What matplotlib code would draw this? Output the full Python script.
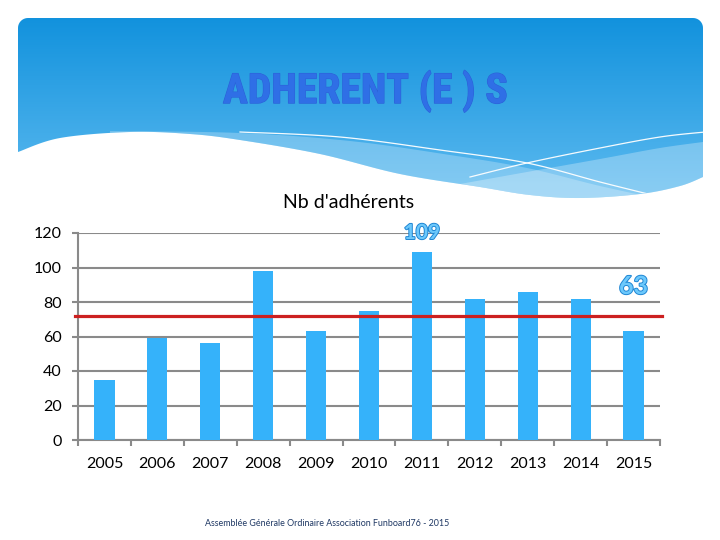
import matplotlib
matplotlib.use('Agg')
import matplotlib.pyplot as plt
import numpy as np
from matplotlib.path import Path
from matplotlib.patches import PathPatch, Polygon
import matplotlib.patheffects as pe
from matplotlib import font_manager

# ---------------- data ----------------
annees = ['2005', '2006', '2007', '2008', '2009', '2010', '2011', '2012', '2013', '2014', '2015']
adherents = [35, 59, 56, 98, 63, 75, 109, 82, 86, 82, 63]
moyenne = 72
yticks = [0, 20, 40, 60, 80, 100, 120]
etiquettes = {'2011': '109', '2015': '63'}
titre = 'ADHERENT (E ) S'
titre_graph = "Nb d'adhérents"
pied = 'Assemblée Générale Ordinaire Association Funboard76 - 2015'

# ---------------- fonts ----------------
names = {f.name for f in font_manager.fontManager.ttflist}
base_font = 'Lato' if 'Lato' in names else 'DejaVu Sans'


def find_condensed_bold():
    cands = []
    for f in font_manager.fontManager.ttflist:
        nm = f.name.lower()
        fn = f.fname.lower()
        if f.style != 'normal' or 'italic' in fn or 'oblique' in fn:
            continue
        cond = ('narrow' in nm or 'condensed' in nm or 'condensed' in str(f.stretch)
                or 'narrow' in fn or 'condensed' in fn)
        bold = (f.weight in ('bold', 700, 'heavy', 800) or 'bold' in fn)
        if cond and bold and 'semi' not in fn and 'extra' not in fn:
            score = 0
            if 'liberation' in fn:
                score = 4
            elif 'roboto' in fn:
                score = 3
            elif 'opensans' in fn or 'open' in fn:
                score = 2
            elif 'dejavu' in fn:
                score = 1
            cands.append((score, f.fname))
    if cands:
        cands.sort(reverse=True)
        return font_manager.FontProperties(fname=cands[0][1], size=30)
    return None


title_fp = find_condensed_bold()
if title_fp is None:
    title_fp = font_manager.FontProperties(family='DejaVu Sans', weight='bold', size=24)


def smooth(pts, n=24):
    pts = np.asarray(pts, float)
    P = np.vstack([pts[0], pts, pts[-1]])
    out = []
    t = np.linspace(0, 1, n, endpoint=False)[:, None]
    for i in range(1, len(P) - 2):
        p0, p1, p2, p3 = P[i - 1], P[i], P[i + 1], P[i + 2]
        seg = 0.5 * ((2 * p1) + (-p0 + p2) * t + (2 * p0 - 5 * p1 + 4 * p2 - p3) * t ** 2
                     + (-p0 + 3 * p1 - 3 * p2 + p3) * t ** 3)
        out.append(seg)
    out.append(pts[-1:])
    return np.vstack(out)


fig = plt.figure(figsize=(7.2, 5.4), dpi=100)
fig.patch.set_facecolor('white')

# ---------------- header background ----------------
bg = fig.add_axes([0, 0, 1, 1])
bg.axis('off')

verts = [(18, 152), (18, 28)]
a = np.linspace(np.pi, 1.5 * np.pi, 12)
verts += list(zip(28 + 10 * np.cos(a), 28 + 10 * np.sin(a)))
a = np.linspace(1.5 * np.pi, 2 * np.pi, 12)
verts += list(zip(693 + 10 * np.cos(a), 28 + 10 * np.sin(a)))
verts += [(703, 177)]
bottom = smooth([(703, 177), (680, 186), (640, 194), (580, 198), (530, 195), (480, 187),
                 (400, 174), (320, 154), (240, 140), (190, 134), (130, 132), (60, 138), (18, 152)])
verts += [tuple(p) for p in bottom[1:]]
verts = np.array(verts)
shape_path = Path(np.vstack([verts, verts[:1]]), closed=True)
shape = PathPatch(shape_path, facecolor='none', edgecolor='none', transform=bg.transData)
bg.add_patch(shape)

top_c = np.array([0x12, 0x92, 0xdd]) / 255.0
bot_c = np.array([0x5e, 0xbb, 0xf0]) / 255.0
tt = np.linspace(0, 1, 256)[:, None, None]
grad = top_c[None, None, :] * (1 - tt) + bot_c[None, None, :] * tt
im = bg.imshow(grad, extent=(18, 703, 200, 18), aspect='auto', interpolation='bilinear', zorder=1)
im.set_clip_path(shape)

band1 = np.vstack([smooth([(110, 131), (240, 133), (350, 141), (450, 155), (527, 168),
                           (600, 186), (660, 199)]), [(660, 240), (110, 240)]])
p1 = Polygon(band1, closed=True, facecolor='white', alpha=0.25, edgecolor='none', zorder=2)
bg.add_patch(p1)
p1.set_clip_path(shape)
band2 = np.vstack([smooth([(460, 184), (527, 172), (600, 159), (660, 148), (703, 142)]),
                   [(720, 142), (720, 240), (460, 240)]])
p2 = Polygon(band2, closed=True, facecolor='white', alpha=0.28, edgecolor='none', zorder=2)
bg.add_patch(p2)
p2.set_clip_path(shape)

l1 = smooth([(240, 132), (340, 137), (440, 150), (527, 163), (600, 182), (648, 194)])
l2 = smooth([(470, 177), (527, 163), (600, 148), (660, 137), (705, 132)])
for l in (l1, l2):
    ln, = bg.plot(l[:, 0], l[:, 1], color='white', lw=0.9, alpha=0.95, zorder=3)
    ln.set_clip_path(shape)

bg.set_xlim(0, 720)
bg.set_ylim(540, 0)

bg.text(365, 91, titre, ha='center', va='center', color='#2f6fe6', zorder=5,
        fontproperties=title_fp,
        path_effects=[pe.withStroke(linewidth=0.8, foreground='#2a62d8')])
bg.text(327, 523, pied, ha='center', va='center', color='#1f3864', fontsize=6.4,
        family=base_font)
bg.text(349, 203, titre_graph, ha='center', va='center', color='black', fontsize=14,
        family=base_font)

# ---------------- chart ----------------
ax = fig.add_axes([78 / 720, 100 / 540, (660 - 78) / 720, (440 - 233) / 540])
ax.patch.set_alpha(0)
x = np.arange(len(annees))
ax.bar(x, adherents, width=0.38, color='#35b2fa', zorder=3)
ax.set_xlim(-0.5, len(annees) - 0.5)
ax.set_ylim(0, 120)
ax.set_yticks(yticks)
ax.set_yticklabels([str(v) for v in yticks], family=base_font, fontsize=11.5)
ax.yaxis.grid(True, color='#8a8a8a', lw=1.5, zorder=0)
ax.set_axisbelow(True)
for s in ('top', 'right'):
    ax.spines[s].set_visible(False)
for s in ('left', 'bottom'):
    ax.spines[s].set_color('#8a8a8a')
    ax.spines[s].set_linewidth(1.5)
ax.tick_params(axis='y', length=4.5, width=1.5, color='#8a8a8a', pad=7, labelcolor='black')
ax.set_xticks(np.arange(-0.5, len(annees), 1))
ax.set_xticklabels([])
ax.set_xticks(x, minor=True)
ax.set_xticklabels(annees, minor=True, family=base_font, fontsize=11.5)
ax.tick_params(axis='x', which='major', length=4.5, width=1.5, color='#8a8a8a')
ax.tick_params(axis='x', which='minor', length=0, pad=12.5, labelcolor='black')

ax.axhline(moyenne, xmin=-0.005, xmax=1.003, color='#cc2020', lw=2.3, clip_on=False, zorder=4)

offsets = {'2011': (11, 15), '2015': (26, 18)}
for yr, lab in etiquettes.items():
    i = annees.index(yr)
    off, fs = offsets[yr]
    ax.text(i, adherents[i] + off, lab, ha='center', va='center', fontsize=fs,
            fontweight='bold', family=base_font, color='#6cc8fb', zorder=6, clip_on=False,
            path_effects=[pe.withStroke(linewidth=1.4, foreground='#1f86d4')])

fig.savefig('out.png', dpi=100)
